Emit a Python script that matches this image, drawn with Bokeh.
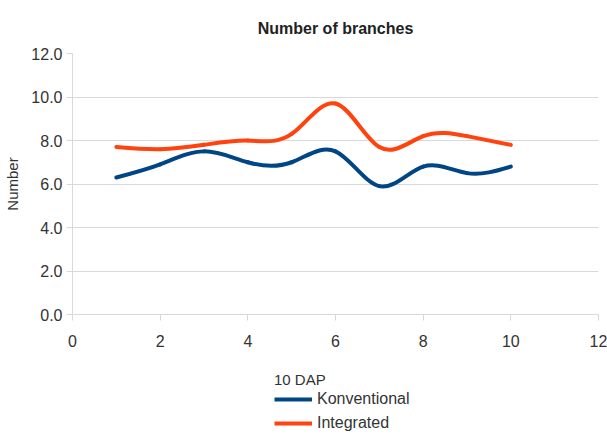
import numpy as np
from bokeh.plotting import figure
from bokeh.layouts import column
from bokeh.models import Range1d, FixedTicker, Legend, LegendItem, ColumnDataSource
from bokeh.embed import file_html
from bokeh.resources import INLINE

# Branch counts per plant, 10 days after planting
days = [1, 2, 3, 4, 5, 6, 7, 8, 9, 10]
konventional = [6.3, 6.9, 7.5, 7.0, 7.0, 7.5, 5.9, 6.8, 6.5, 6.8]
integrated = [7.7, 7.6, 7.8, 8.0, 8.3, 9.7, 7.7, 8.2, 8.2, 7.8]
series_names = ["Konventional", "Integrated"]
series_colors = ["#004586", "#ff420e"]

x_ticks = [0, 2, 4, 6, 8, 10, 12]
y_ticks = [0, 2, 4, 6, 8, 10, 12]

FONT = "Liberation Sans"
TEXT = "#333333"
GRID = "#d9d9d9"


def spline_source(xs, ys):
    """Natural cubic spline through the points, as one Bezier per interval."""
    x = np.asarray(xs, dtype=float)
    y = np.asarray(ys, dtype=float)
    n = len(x)
    h = np.diff(x)
    a = np.zeros((n, n))
    b = np.zeros(n)
    a[0, 0] = a[-1, -1] = 1.0
    for i in range(1, n - 1):
        a[i, i - 1] = h[i - 1]
        a[i, i] = 2 * (h[i - 1] + h[i])
        a[i, i + 1] = h[i]
        b[i] = 6 * ((y[i + 1] - y[i]) / h[i] - (y[i] - y[i - 1]) / h[i - 1])
    m = np.linalg.solve(a, b)
    s = np.diff(y) / h
    d0 = s - h * (2 * m[:-1] + m[1:]) / 6
    d1 = s + h * (m[:-1] + 2 * m[1:]) / 6
    return ColumnDataSource(dict(
        x0=x[:-1], y0=y[:-1], x1=x[1:], y1=y[1:],
        cx0=x[:-1] + h / 3, cy0=y[:-1] + d0 * h / 3,
        cx1=x[1:] - h / 3, cy1=y[1:] - d1 * h / 3,
    ))


sources = [spline_source(days, konventional), spline_source(days, integrated)]
BEZ = dict(x0="x0", y0="y0", x1="x1", y1="y1",
           cx0="cx0", cy0="cy0", cx1="cx1", cy1="cy1")

# ---- main chart ----
p = figure(
    width=607, height=367,
    output_backend="svg", toolbar_location=None,
    x_range=Range1d(0, 12), y_range=Range1d(0, 12),
    min_border_left=72, min_border_right=9,
    min_border_top=53, min_border_bottom=53,
    background_fill_color="white", border_fill_color="white",
)
p.outline_line_color = None

p.title.text = "Number of branches"
p.title.align = "center"
p.title.text_font = FONT
p.title.text_font_size = "16px"
p.title.text_font_style = "bold"
p.title.text_color = "#222222"
p.title.standoff = 33

p.xaxis.ticker = FixedTicker(ticks=x_ticks)
p.yaxis.ticker = FixedTicker(ticks=y_ticks)
p.yaxis.major_label_overrides = {t: f"{t:.1f}" for t in y_ticks}
p.yaxis.axis_label = "Number"
for ax in (p.xaxis[0], p.yaxis[0]):
    ax.axis_line_color = GRID
    ax.major_tick_line_color = GRID
    ax.major_tick_in = 0
    ax.major_tick_out = 6
    ax.minor_tick_line_color = None
    ax.major_label_text_font = FONT
    ax.major_label_text_font_size = "16px"
    ax.major_label_text_color = TEXT
    ax.axis_label_text_font = FONT
    ax.axis_label_text_font_size = "15px"
    ax.axis_label_text_font_style = "normal"
    ax.axis_label_text_color = TEXT
p.xaxis.major_label_standoff = 14
p.yaxis.major_label_standoff = 4
p.yaxis.axis_label_standoff = 7

p.xgrid.grid_line_color = None
p.ygrid.grid_line_color = GRID
p.ygrid.grid_line_width = 1

for src, color in zip(sources, series_colors):
    p.bezier(source=src, line_color=color, line_width=4, line_cap="round", **BEZ)

# ---- legend strip under the chart ----
# The strip shows the same series, scrolled out of view, so its legend swatches
# carry the series' own line styles.
lg = figure(
    width=607, height=67,
    output_backend="svg", toolbar_location=None,
    x_range=Range1d(100, 101), y_range=Range1d(100, 101),
    x_axis_location=None, y_axis_location=None,
    min_border=0, border_fill_color="white", background_fill_color="white",
)
lg.outline_line_color = None
lg.grid.grid_line_color = None

items = []
for name, src, color in zip(series_names, sources, series_colors):
    r = lg.bezier(source=src, line_color=color, line_width=4, **BEZ)
    items.append(LegendItem(label=name, renderers=[r]))

legend = Legend(
    items=items,
    title="10 DAP",
    location=(202, 0),
    orientation="vertical",
    background_fill_alpha=0, border_line_color=None,
    padding=0, margin=0, spacing=2,
    glyph_width=38, glyph_height=22, label_standoff=5,
    label_text_font=FONT, label_text_font_size="16px", label_text_color=TEXT,
    title_text_font=FONT, title_text_font_size="15px",
    title_text_font_style="normal", title_text_color=TEXT,
    title_standoff=0,
)
lg.add_layout(legend)

layout = column(p, lg, spacing=0)
open("out.html", "w").write(file_html(layout, INLINE))
